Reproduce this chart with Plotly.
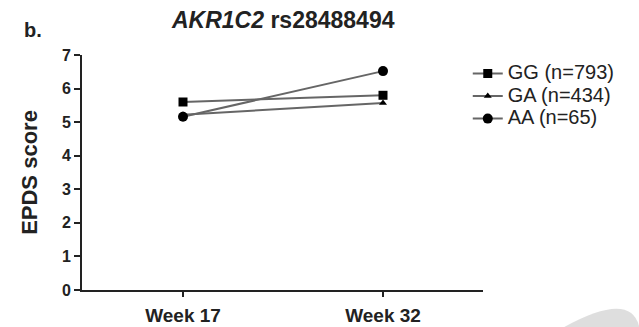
import plotly.graph_objects as go

weeks = ["Week 17", "Week 32"]
series_names = ["GG (n=793)", "GA (n=434)", "AA (n=65)"]
gg = [5.60, 5.80]
ga = [5.22, 5.57]
aa = [5.16, 6.52]
y_ticks = [0, 1, 2, 3, 4, 5, 6, 7]

symbols = ["square", "triangle-up", "circle"]
sizes = [9, 7, 10]

fig = go.Figure()
for name, vals, sym, sz in zip(series_names, [gg, ga, aa], symbols, sizes):
    fig.add_trace(go.Scatter(
        x=[0, 1], y=vals, name='<span style="font-size:20px">%s</span>' % name,
        mode="lines+markers",
        line=dict(color="#666666", width=2),
        marker=dict(symbol=sym, size=sz, color="black"),
    ))

font_family = "Liberation Sans, Arial, sans-serif"

fig.update_layout(
    width=639, height=327,
    margin=dict(l=82, r=156, t=55, b=37),
    paper_bgcolor="white", plot_bgcolor="white",
    font=dict(family=font_family, color="#222222"),
    showlegend=True,
    legend=dict(x=0.962, y=0.99, xanchor="left", yanchor="top",
                font=dict(size=15, color="#222222"),
                bgcolor="rgba(0,0,0,0)", tracegroupgap=0,
                itemwidth=30),
    xaxis=dict(
        range=[-0.505, 1.5], tickvals=[0, 1],
        ticktext=["<b>%s</b>" % w for w in weeks],
        showgrid=False, zeroline=False, showline=True, automargin=False,
        linecolor="#222222", linewidth=2,
        ticks="outside", ticklen=5, tickwidth=2, tickcolor="#222222",
        ticklabelstandoff=2,
        tickfont=dict(size=19, color="#222222"),
    ),
    yaxis=dict(
        range=[0, 7], tickvals=y_ticks,
        ticktext=["<b>%d</b>" % t for t in y_ticks],
        showgrid=False, zeroline=False, showline=True, automargin=False,
        linecolor="#222222", linewidth=2,
        ticks="outside", ticklen=6, tickwidth=2, tickcolor="#222222",
        tickfont=dict(size=16, color="#222222"),
        title=dict(text="<b>EPDS score</b>", font=dict(size=22, color="#222222"), standoff=18),
    ),
)

fig.add_annotation(text="<b>b.</b>", xref="paper", yref="paper",
                   x=-0.15, y=1.106, xanchor="left", yanchor="middle",
                   showarrow=False, font=dict(size=20, color="#222222"))
fig.add_annotation(text="<b><i>AKR1C2</i> rs28488494</b>", xref="paper", yref="paper",
                   x=0.501, y=1.148, xanchor="center", yanchor="middle",
                   showarrow=False, font=dict(size=23, color="#222222"))

# faint page-curl artifact in bottom right
fig.add_shape(type="path", xref="paper", yref="paper",
              path="M 1.39 -0.16 Q 1.37 0.0 1.2 -0.16 Z",
              fillcolor="rgba(200,200,200,0.6)", line=dict(width=0))

fig.write_html("out.html", config={"displayModeBar": False},
               post_script="document.body.style.margin='0';")
